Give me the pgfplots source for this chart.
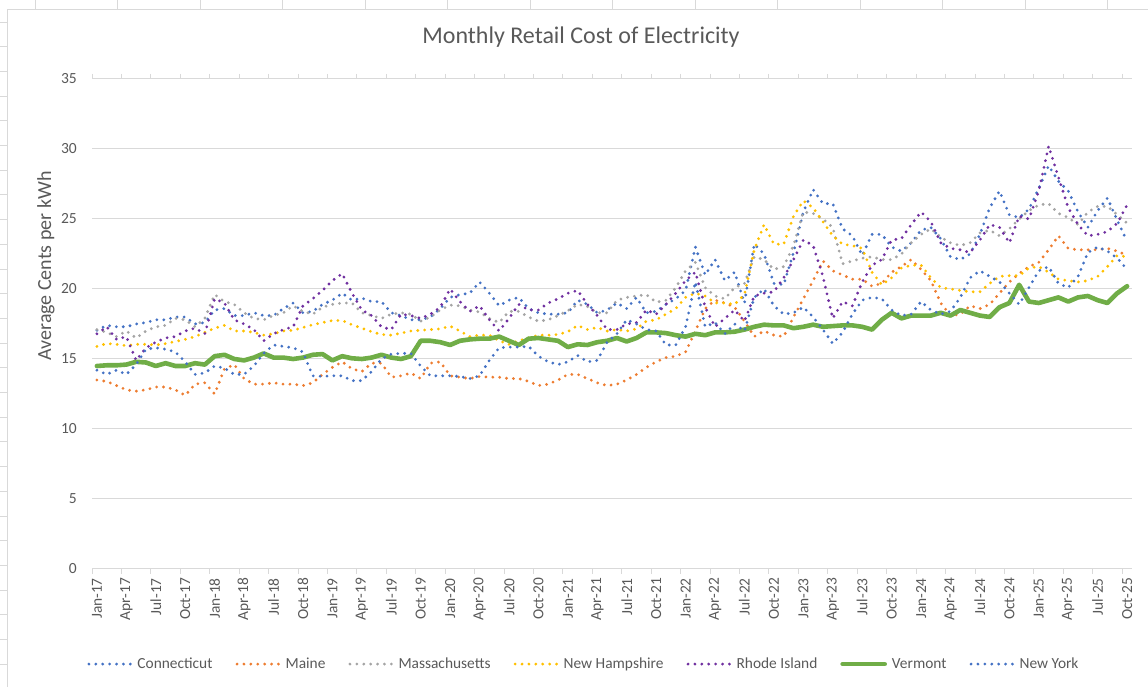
\documentclass[border=0pt]{standalone}
\usepackage{fontspec}
\setmainfont{Carlito}
\usepackage{pgfplots}
\usepackage{pgfplotstable}
\pgfplotsset{compat=1.18}
\definecolor{ctblue}{HTML}{4472C4}
\definecolor{meorange}{HTML}{ED7D31}
\definecolor{magray}{HTML}{A5A5A5}
\definecolor{nhgold}{HTML}{FFC000}
\definecolor{ripurple}{HTML}{7030A0}
\definecolor{vtgreen}{HTML}{70AD47}
\definecolor{nyblue}{HTML}{4472C4}
\definecolor{gridgray}{HTML}{D9D9D9}
\definecolor{txtgray}{HTML}{595959}

\pgfplotstableread{
m ct me ma nh ri vt ny
0 17.05 13.5 17.1 15.9 16.8 14.5 14.2
1 17.4 13.4 16.9 16.1 17.3 14.55 13.9
2 17.3 13.1 16.6 16.05 16.4 14.55 14.2
3 17.3 12.8 17.0 15.95 16.6 14.6 13.9
4 17.5 12.7 16.5 16.05 14.9 14.8 14.6
5 17.6 12.8 17.0 16.05 15.8 14.75 15.7
6 17.8 13.0 17.3 16.0 16.2 14.5 15.8
7 17.8 13.0 17.4 16.1 16.5 14.7 15.7
8 18.0 12.8 17.9 16.25 16.6 14.5 15.5
9 18.0 12.4 17.8 16.4 17.0 14.5 14.8
10 17.5 13.2 17.3 16.6 17.2 14.7 13.9
11 17.6 13.3 17.9 16.9 16.8 14.6 14.0
12 18.5 12.5 19.6 17.2 19.3 15.2 14.5
13 18.6 14.3 19.1 17.4 19.0 15.3 14.35
14 18.1 14.6 18.9 17.0 17.8 15.0 13.9
15 18.1 13.6 18.3 17.0 17.5 14.9 13.9
16 18.3 13.2 17.9 16.9 17.1 15.1 14.5
17 18.1 13.2 17.8 16.7 16.3 15.4 15.4
18 18.1 13.3 18.1 16.8 16.8 15.1 16.0
19 18.6 13.2 18.3 17.0 17.1 15.1 15.9
20 19.0 13.2 18.8 17.05 17.3 15.0 15.8
21 18.3 13.1 18.4 17.25 18.8 15.1 15.5
22 18.4 13.3 18.2 17.45 19.3 15.3 13.8
23 18.9 13.9 18.7 17.6 19.9 15.35 13.75
24 19.2 14.4 18.9 17.75 20.6 14.9 13.8
25 19.7 14.8 19.0 17.75 21.1 15.2 13.8
26 19.2 14.3 19.0 17.45 19.7 15.05 13.45
27 19.35 14.1 18.3 17.2 18.5 15.0 13.45
28 19.1 14.7 18.1 16.95 18.1 15.1 14.1
29 19.1 14.7 17.9 16.75 17.3 15.3 15.0
30 18.3 13.7 18.2 16.7 17.1 15.1 15.35
31 18.1 13.8 18.3 16.85 18.2 15.0 15.4
32 17.8 14.0 18.2 17.0 18.1 15.2 15.4
33 17.8 13.6 17.7 17.05 17.9 16.3 14.5
34 18.0 14.7 18.0 17.1 18.2 16.3 13.8
35 18.6 14.8 18.5 17.15 18.7 16.2 13.8
36 19.4 13.8 18.85 17.35 20.0 16.0 13.8
37 19.6 13.7 18.8 17.0 19.1 16.3 13.75
38 19.7 13.6 18.5 16.6 18.4 16.4 13.6
39 20.5 13.75 18.35 16.7 18.8 16.45 13.8
40 19.7 13.7 17.9 16.7 17.8 16.45 14.9
41 18.8 13.7 17.6 16.3 17.0 16.6 15.8
42 19.2 13.6 18.4 16.05 17.9 16.3 15.85
43 19.4 13.6 18.4 16.3 18.9 16.0 15.85
44 18.6 13.4 18.0 16.5 18.5 16.45 15.9
45 18.3 13.1 17.7 16.7 18.5 16.5 15.2
46 18.2 13.2 17.8 16.7 19.0 16.4 14.8
47 18.2 13.5 18.1 16.75 19.3 16.3 14.6
48 18.3 13.9 18.45 16.95 19.7 15.85 14.8
49 19.2 13.9 18.9 17.4 19.9 16.05 15.25
50 18.9 13.6 18.75 17.1 18.9 16.0 14.8
51 18.3 13.3 18.3 17.25 18.1 16.2 14.9
52 18.5 13.1 18.3 17.0 17.1 16.3 16.2
53 19.0 13.2 19.2 17.1 17.1 16.5 16.8
54 18.6 13.5 19.4 17.0 17.5 16.25 17.8
55 19.4 13.9 19.5 17.15 17.6 16.5 17.5
56 18.3 14.4 19.6 17.7 18.5 16.9 17.1
57 18.4 14.8 19.05 17.8 18.2 16.9 17.0
58 18.9 15.1 19.2 18.2 18.9 16.85 16.0
59 19.3 15.2 20.1 18.6 19.7 16.7 16.0
60 19.9 15.5 21.3 19.4 20.6 16.6 17.3
61 23.0 17.0 21.9 19.7 21.2 16.8 20.5
62 21.0 18.6 20.1 19.5 18.7 16.7 17.3
63 22.1 19.2 19.5 19.0 17.3 16.9 17.6
64 20.6 19.0 19.3 19.0 17.9 16.9 16.8
65 21.2 18.7 20.1 18.9 18.5 16.95 17.5
66 19.0 17.7 20.4 19.6 17.7 17.1 17.0
67 23.2 16.6 22.3 22.8 19.5 17.3 19.4
68 22.5 17.0 22.1 24.6 19.7 17.45 20.0
69 20.4 16.7 21.4 23.2 19.8 17.4 18.8
70 20.3 16.6 21.6 23.2 20.8 17.4 18.2
71 22.6 18.0 23.1 25.2 22.1 17.2 18.3
72 25.5 19.3 25.5 26.3 23.5 17.3 18.7
73 27.1 20.6 25.4 25.8 23.1 17.45 18.0
74 26.1 22.0 25.0 24.8 20.9 17.3 17.1
75 26.1 21.3 24.4 23.8 17.9 17.35 16.1
76 24.3 21.0 21.8 23.2 19.1 17.4 16.9
77 23.8 20.7 22.0 23.1 18.8 17.4 18.2
78 22.4 20.7 22.2 22.9 20.5 17.3 19.2
79 23.9 20.2 22.3 21.2 21.7 17.1 19.4
80 23.9 20.4 22.1 20.3 22.1 17.8 19.3
81 23.0 21.2 22.1 20.8 23.5 18.3 18.5
82 22.7 21.6 22.5 21.5 23.6 17.9 18.1
83 23.3 22.1 23.3 21.7 24.6 18.1 18.2
84 24.2 21.4 23.9 21.7 25.5 18.1 19.1
85 24.4 20.6 24.3 20.8 24.8 18.1 18.5
86 23.6 19.0 23.7 20.1 23.3 18.3 18.2
87 22.3 18.1 23.3 20.0 22.9 18.1 18.4
88 22.1 18.2 23.1 19.9 22.8 18.5 19.4
89 22.5 18.8 23.3 19.8 22.6 18.3 20.8
90 23.9 18.6 24.0 19.8 23.5 18.1 21.3
91 25.8 18.9 24.2 20.4 24.6 18.0 20.9
92 27.0 19.7 23.8 20.9 24.4 18.7 20.5
93 25.3 20.5 24.3 20.95 23.3 19.0 19.7
94 25.1 21.1 25.0 20.95 25.2 20.3 18.9
95 25.7 21.6 25.6 21.5 25.0 19.1 20.1
96 27.2 21.9 26.0 21.6 27.0 19.0 21.3
97 28.8 22.8 26.1 21.2 30.2 19.2 21.6
98 27.7 23.8 25.4 20.7 28.0 19.4 20.4
99 27.0 22.9 25.1 20.6 25.8 19.1 20.1
100 25.5 22.8 24.6 20.5 24.6 19.4 20.9
101 24.4 22.8 25.5 20.6 23.8 19.5 22.6
102 25.6 22.8 25.9 20.9 23.9 19.2 23.0
103 26.5 22.9 25.9 21.6 24.1 19.0 22.7
104 24.9 22.7 25.3 22.4 24.7 19.7 22.2
105 23.4 22.4 24.7 22.3 26.0 20.2 21.4
}\elec

\tikzset{dotline/.style={line width=3.1pt, line cap=round, line join=round, dash pattern=on 0pt off 6.9pt}}

\begin{document}
\begin{tikzpicture}[x=1pt,y=1pt]
\useasboundingbox (0,0) rectangle (1148,687);
% spreadsheet cell lines around the chart object
\foreach \x in {35,117.5,...,1148} \draw[gridgray,line width=0.8pt] (\x,678) -- (\x,687);
\foreach \y in {665,640.3,...,0} \draw[gridgray,line width=0.8pt] (0,\y) -- (7.3,\y);
\draw[gridgray,line width=0.8pt] (7.3,0) -- (7.3,678) -- (1148,678);

\begin{axis}[
  at={(96.906pt,118pt)}, anchor=origin,
  scale only axis, width=1040pt, height=490pt,
  xmin=-0.5, xmax=105.5, ymin=0, ymax=35,
  axis line style={draw=none},
  ytick={0,5,...,35},
  ymajorgrids, grid style={gridgray, line width=1pt},
  major tick length=0pt,
  /pgf/number format/assume math mode=true,
  yticklabel style={font=\fontsize{15.5}{18}\selectfont, text=txtgray, inner sep=0pt, xshift=-15pt},
  xtick={0,3,...,105},
  xticklabels={Jan-17,Apr-17,Jul-17,Oct-17,Jan-18,Apr-18,Jul-18,Oct-18,Jan-19,Apr-19,Jul-19,Oct-19,Jan-20,Apr-20,Jul-20,Oct-20,Jan-21,Apr-21,Jul-21,Oct-21,Jan-22,Apr-22,Jul-22,Oct-22,Jan-23,Apr-23,Jul-23,Oct-23,Jan-24,Apr-24,Jul-24,Oct-24,Jan-25,Apr-25,Jul-25,Oct-25},
  xticklabel style={font=\fontsize{15.4}{18}\selectfont, text=txtgray, rotate=90, anchor=east, inner sep=0pt},
  xticklabel shift=9pt,
  extra x ticks={-0.5,2.5,...,105.5},
  extra x tick labels={},
  extra x tick style={major tick length=5pt, tick align=outside, grid=none, tick style={gridgray, line width=1pt}},
  legend columns=7,
  legend style={at={(0.473,-0.194)}, anchor=center, draw=none, fill=none,
    font=\fontsize{15.4}{18}\selectfont, text=txtgray,
    /tikz/every odd column/.append style={column sep=3pt},
    /tikz/every even column/.append style={column sep=21pt}},
  legend image code/.code={\draw[#1] (0pt,0pt) -- (42pt,0pt);},
]
\addplot[ctblue, dotline] table[x=m,y=ct]{\elec};
\addlegendentry{Connecticut}
\addplot[meorange, dotline] table[x=m,y=me]{\elec};
\addlegendentry{Maine}
\addplot[magray, dotline] table[x=m,y=ma]{\elec};
\addlegendentry{Massachusetts}
\addplot[nhgold, dotline] table[x=m,y=nh]{\elec};
\addlegendentry{New Hampshire}
\addplot[ripurple, dotline] table[x=m,y=ri]{\elec};
\addlegendentry{Rhode Island}
\addplot[vtgreen, line width=4.6pt, line join=round, line cap=round] table[x=m,y=vt]{\elec};
\addlegendentry{Vermont}
\addplot[nyblue, dotline] table[x=m,y=ny]{\elec};
\addlegendentry{New York}
\end{axis}

\node[text=txtgray, font=\fontsize{24}{28}\selectfont] at (581,650) {Monthly Retail Cost of Electricity};
\node[text=txtgray, font=\fontsize{20}{24}\selectfont, rotate=90] at (46,421) {Average Cents per kWh};
\end{tikzpicture}
\end{document}
